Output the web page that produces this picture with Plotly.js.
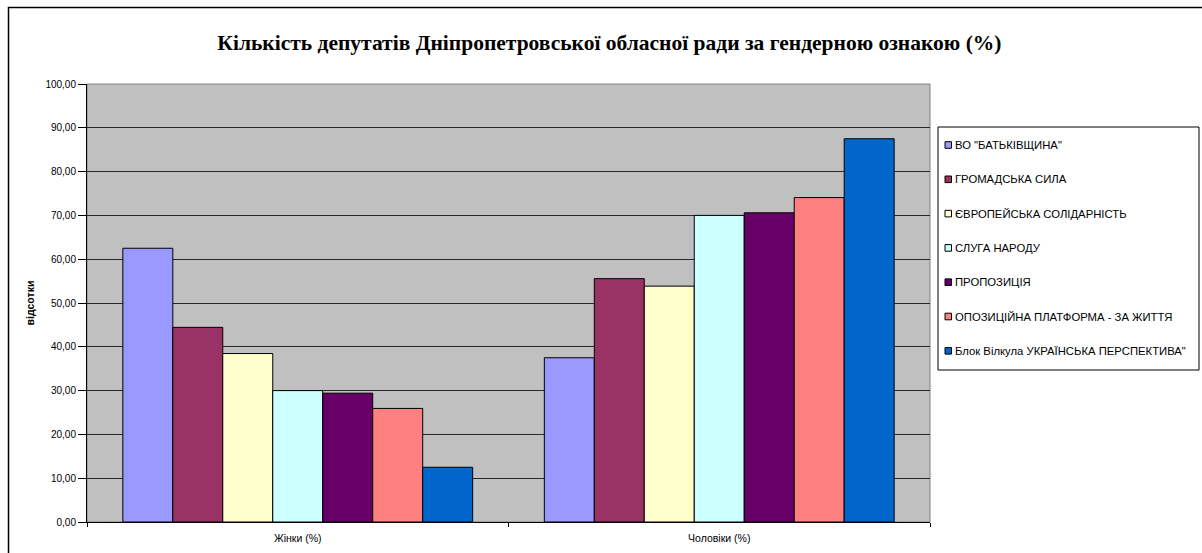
<!DOCTYPE html>
<html>
<head>
<meta charset="utf-8">
<script src="https://cdn.plot.ly/plotly-3.0.1.min.js"></script>
<style>html,body{margin:0;padding:0;background:#fff;}#chart{width:1202px;height:553px;}</style>
</head>
<body>
<div id="chart"></div>
<script>
const categories = ["Жінки (%)", "Чоловіки (%)"];
const parties = [
  "ВО \"БАТЬКІВЩИНА\"",
  "ГРОМАДСЬКА СИЛА",
  "ЄВРОПЕЙСЬКА СОЛІДАРНІСТЬ",
  "СЛУГА НАРОДУ",
  "ПРОПОЗИЦІЯ",
  "ОПОЗИЦІЙНА ПЛАТФОРМА - ЗА ЖИТТЯ",
  "Блок Вілкула УКРАЇНСЬКА ПЕРСПЕКТИВА\""
];
const women = [62.50, 44.44, 38.46, 30.00, 29.41, 25.93, 12.50];
const men   = [37.50, 55.56, 53.85, 70.00, 70.59, 74.07, 87.50];
const colors = ["#9999FF", "#993366", "#FFFFCC", "#CCFFFF", "#660066", "#FF8080", "#0066CC"];
const titleText = "Кількість депутатів Дніпропетровської обласної ради за гендерною ознакою (%)";
const yTitle = "відсотки";

// plot-area geometry (pixels)
const W = 1202, H = 553, L = 87, R = 930, T = 84, B = 522;
const px = x => (x - L) / (R - L);
const py = y => (B - y) / (B - T);

const traces = parties.map((p, i) => ({
  type: "bar",
  name: p,
  x: categories,
  y: [women[i], men[i]],
  marker: {color: colors[i], line: {color: "#000", width: 1}},
  hoverinfo: "x+y+name"
}));

const shapes = [
  {type: "rect", xref: "paper", yref: "paper", x0: 0, x1: 1, y0: 0, y1: 1,
   line: {color: "#808080", width: 1}, layer: "below"},
  {type: "rect", xref: "paper", yref: "paper", x0: px(8.5), x1: px(1230), y0: py(580), y1: py(7.5),
   line: {color: "#000", width: 1.5}, fillcolor: "rgba(0,0,0,0)"},
  // legend box
  {type: "rect", xref: "paper", yref: "paper", x0: px(938), x1: px(1199), y0: py(370), y1: py(127),
   line: {color: "#000", width: 1}, fillcolor: "#fff"}
];
const annotations = [];
parties.forEach((p, i) => {
  const cy = 145 + i * 34.3;
  shapes.push({type: "rect", xref: "paper", yref: "paper",
    x0: px(945), x1: px(951.5), y0: py(cy + 3.3), y1: py(cy - 3.3),
    line: {color: "#000", width: 1}, fillcolor: colors[i]});
  annotations.push({xref: "paper", yref: "paper", x: px(953), y: py(cy),
    xanchor: "left", yanchor: "middle", showarrow: false, text: p,
    font: {size: 11.3, color: "#000"}});
});

const layout = {
  width: W, height: H,
  margin: {l: L, r: W - R, t: T, b: H - B, pad: 0},
  paper_bgcolor: "#fff",
  plot_bgcolor: "#C0C0C0",
  separators: ", ",
  barmode: "group",
  bargap: 0.17,
  bargroupgap: 0,
  font: {family: "Liberation Sans, Arial, sans-serif", size: 10, color: "#000"},
  title: {
    text: "<b>" + titleText + "</b>",
    font: {family: "Liberation Serif, Times New Roman, serif", size: 21.5, color: "#000"},
    x: 0.507, xref: "container", xanchor: "center",
    y: 1 - 42/553, yref: "container", yanchor: "middle"
  },
  xaxis: {
    type: "category",
    showline: true, linecolor: "#000", linewidth: 1,
    ticks: "outside", tickson: "boundaries", ticklen: 4, tickcolor: "#000",
    ticklabelstandoff: 6,
    tickfont: {size: 10.5},
    showgrid: false, zeroline: false, automargin: false, fixedrange: true
  },
  yaxis: {
    range: [0, 100], dtick: 10, tickformat: ".2f",
    showline: true, linecolor: "#000", linewidth: 1,
    ticks: "outside", ticklen: 8, tickcolor: "#000",
    showgrid: true, gridcolor: "#2a2a2a", gridwidth: 1,
    zeroline: false, automargin: false, fixedrange: true,
    tickfont: {size: 10},
    title: {text: "<b>" + yTitle + "</b>", font: {size: 10.5}, standoff: 8}
  },
  showlegend: false,
  shapes: shapes,
  annotations: annotations
};

Plotly.newPlot("chart", traces, layout, {displayModeBar: false, staticPlot: true});
</script>
</body>
</html>
